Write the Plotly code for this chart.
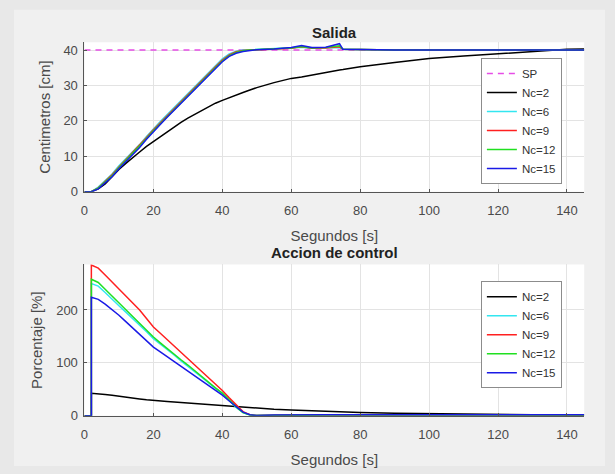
import plotly.graph_objects as go

# ---------------- data: Salida (output) ----------------
t_out = [0, 2, 4, 6, 8, 10, 12, 14, 16, 18,
         20, 22, 24, 26, 28, 30, 32, 34, 36, 38,
         40, 42, 44, 46, 48, 50, 55, 60, 63, 66,
         70, 74, 75, 80, 90, 100, 110, 120, 130, 140,
         145]
sp_t = [0, 145]
sp_v = [40, 40]
y_nc2 = [0, 0, 0.8, 2.2, 4.2, 6.3, 8.0, 9.7, 11.2, 12.8,
         14.2, 15.6, 17.0, 18.3, 19.6, 20.8, 21.9, 23.0, 24.0, 25.0,
         25.8, 26.6, 27.3, 28.0, 28.7, 29.4, 30.8, 32.0, 32.4, 33.0,
         33.8, 34.4, 34.5, 35.3, 36.5, 37.6, 38.3, 39.0, 39.6, 40.2,
         40.3]
y_nc6 = [0, 0, 1.3, 3.2, 5.0, 7.3, 9.3, 11.3, 13.3, 15.6,
         17.8, 19.8, 21.8, 23.8, 25.8, 27.8, 29.7, 31.7, 33.6, 35.6,
         37.5, 38.9, 39.7, 40.0, 40.1, 40.2, 40.3, 40.5, 40.8, 40.5,
         40.5, 40.7, 40.2, 40.1, 40.0, 40.0, 40.0, 40.0, 40.0, 40.0,
         40.0]
y_nc9 = [0, 0, 1.1, 3.0, 4.8, 7.0, 9.0, 11.0, 13.0, 15.3,
         17.5, 19.5, 21.5, 23.5, 25.5, 27.5, 29.4, 31.4, 33.3, 35.3,
         37.2, 38.6, 39.5, 39.9, 40.0, 40.1, 40.3, 40.5, 40.9, 40.5,
         40.6, 40.9, 40.2, 40.1, 40.0, 40.0, 40.0, 40.0, 40.0, 40.0,
         40.0]
y_nc12 = [0, 0, 1.0, 2.8, 4.5, 6.8, 8.8, 10.8, 12.8, 15.0,
          17.2, 19.2, 21.2, 23.2, 25.2, 27.2, 29.1, 31.1, 33.0, 35.0,
          36.9, 38.4, 39.3, 39.8, 40.0, 40.1, 40.3, 40.6, 41.0, 40.6,
          40.7, 41.2, 40.2, 40.1, 40.0, 40.0, 40.0, 40.0, 40.0, 40.0,
          40.0]
y_nc15 = [0, 0, 0.8, 2.5, 4.2, 6.5, 8.5, 10.5, 12.5, 14.8,
          17.0, 19.0, 21.0, 23.0, 25.0, 27.0, 28.9, 30.9, 32.8, 34.8,
          36.7, 38.2, 39.1, 39.6, 39.9, 40.1, 40.3, 40.7, 41.3, 40.7,
          40.8, 41.8, 40.2, 40.1, 40.0, 40.0, 40.0, 40.0, 40.0, 40.0,
          40.0]

# ---------------- data: Accion de control ----------------
t_u = [0, 2, 2, 4, 6, 8, 10, 12, 14, 16, 18, 20,
       22, 24, 26, 28, 30, 32, 34, 36, 38, 40,
       42, 44, 46, 48, 50, 55, 60, 70, 80, 90, 100, 110, 120, 130, 140, 145]
u_nc2 = [0, 0, 42.5, 42, 40.5, 39, 37, 35, 33.5, 32, 30.5, 29,
         28, 27, 26, 25, 24, 23, 22, 21, 20, 19,
         18, 17, 16, 15, 14, 12.5, 11, 8.5, 6.5, 5, 4, 3, 2.5, 2, 1.5, 1.3]
u_nc6 = [0, 0, 250, 245, 233, 220, 208, 196, 184, 172, 159, 146,
         136, 125, 115, 104, 94, 83, 73, 62, 52, 42,
         29, 16, 6, 1.5, 0.5, 1, 1.5, 1.5, 1.5, 1.5, 1.5, 1.5, 1.5, 1.5, 1.5, 1.5]
u_nc9 = [0, 0, 285, 279, 266, 253, 240, 227, 214, 200, 184, 168,
         156, 144, 132, 120, 108, 96, 84, 72, 60, 48,
         34, 20, 8, 2, 0.5, 1, 1.5, 1.5, 1.5, 1.5, 1.5, 1.5, 1.5, 1.5, 1.5, 1.5]
u_nc12 = [0, 0, 258, 252, 239, 226, 213, 201, 188, 175, 162, 149,
          138, 127, 117, 106, 96, 85, 74, 64, 53, 43,
          30, 17, 6, 1.5, 0.5, 1, 1.5, 1.5, 1.5, 1.5, 1.5, 1.5, 1.5, 1.5, 1.5, 1.5]
u_nc15 = [0, 0, 224, 220, 211, 201, 190, 178, 166, 154, 142, 130,
          121, 112, 103, 94, 85, 76, 67, 57, 48, 39,
          28, 17, 7, 2, 0.5, 1.5, 2, 2, 2, 2, 2, 2, 2, 2, 2, 2]

x_ticks = [0, 20, 40, 60, 80, 100, 120, 140]
y1_ticks = [0, 10, 20, 30, 40]
y2_ticks = [0, 100, 200]

names = ["Nc=2", "Nc=6", "Nc=9", "Nc=12", "Nc=15"]
colors = ["#000000", "#33e6f0", "#ff2020", "#20e020", "#1a1ae6"]

W, H = 615, 474
FONT = "Liberation Sans, Arial, sans-serif"
GRAY = "#4a4a4a"

fig = go.Figure()

# top plot
fig.add_trace(go.Scatter(x=sp_t, y=sp_v, mode="lines", name="SP",
                         line=dict(color="#e64de6", width=1.6, dash="6px,5px"),
                         xaxis="x", yaxis="y", legend="legend"))
for nm, col, ys in zip(names, colors, [y_nc2, y_nc6, y_nc9, y_nc12, y_nc15]):
    fig.add_trace(go.Scatter(x=t_out, y=ys, mode="lines", name=nm,
                             line=dict(color=col, width=1.5),
                             xaxis="x", yaxis="y", legend="legend"))
# bottom plot
for nm, col, us in zip(names, colors, [u_nc2, u_nc6, u_nc9, u_nc12, u_nc15]):
    fig.add_trace(go.Scatter(x=t_u, y=us, mode="lines", name=nm,
                             line=dict(color=col, width=1.5),
                             xaxis="x2", yaxis="y2", legend="legend2"))

x_dom = [81 / W, 584 / W]
y1_dom = [1 - 195 / H, 1 - 43 / H]
y2_dom = [1 - 423 / H, 1 - 269 / H]

axis_common = dict(showline=True, linecolor="#555555", linewidth=1,
                   ticks="inside", ticklen=3, tickcolor="#555555",
                   showgrid=True, gridcolor="#e3e3e3", gridwidth=1,
                   zeroline=False, mirror=False,
                   tickfont=dict(family=FONT, size=13, color=GRAY))
title_font = dict(family=FONT, size=15, color=GRAY)
legend_common = dict(xanchor="left", yanchor="top",
                     bgcolor="#ffffff", bordercolor="#8c8c8c", borderwidth=1,
                     font=dict(family=FONT, size=11.5, color="#333333"),
                     itemwidth=30, tracegroupgap=0)

bg_shapes = [dict(type="rect", xref="paper", yref="paper",
                  x0=10 / W, x1=605 / W, y0=0, y1=1 - 10 / H,
                  fillcolor="#f0f0f0", line=dict(width=0), layer="below")]
for dom in (y1_dom, y2_dom):
    bg_shapes.append(dict(type="rect", xref="paper", yref="paper",
                          x0=x_dom[0], x1=x_dom[1], y0=dom[0], y1=dom[1],
                          fillcolor="#ffffff", line=dict(width=0), layer="below"))

xt = dict(range=[0, 145], tickvals=x_ticks, ticklabelstandoff=7,
          title=dict(text="Segundos [s]", standoff=13, font=title_font), **axis_common)

fig.update_layout(
    width=W, height=H,
    margin=dict(l=0, r=0, t=0, b=0),
    paper_bgcolor="#e8e8e8", plot_bgcolor="#ffffff",
    font=dict(family=FONT, size=11, color="#333333"),
    xaxis=dict(domain=x_dom, anchor="y", **xt),
    yaxis=dict(domain=y1_dom, anchor="x", range=[0, 42.2], tickvals=y1_ticks,
               ticklabelstandoff=3,
               title=dict(text="Centimetros [cm]", standoff=9, font=title_font),
               **axis_common),
    xaxis2=dict(domain=x_dom, anchor="y2", **xt),
    yaxis2=dict(domain=y2_dom, anchor="x2", range=[0, 286], tickvals=y2_ticks,
                ticklabelstandoff=3,
                title=dict(text="Porcentaje [%]", standoff=9, font=title_font),
                **axis_common),
    legend=dict(x=480 / W, y=1 - 59 / H, **legend_common),
    legend2=dict(x=480 / W, y=1 - 286 / H, **legend_common),
    showlegend=True,
    shapes=bg_shapes,
    annotations=[
        dict(text="<b>Salida</b>", x=(x_dom[0] + x_dom[1]) / 2, y=1 - 33 / H,
             xref="paper", yref="paper", showarrow=False, yanchor="middle",
             font=dict(family=FONT, size=15, color="#222222")),
        dict(text="<b>Accion de control</b>", x=(x_dom[0] + x_dom[1]) / 2, y=1 - 257 / H,
             xref="paper", yref="paper", showarrow=False, yanchor="middle",
             font=dict(family=FONT, size=15, color="#222222")),
    ],
)

fig.write_html("out.html")
